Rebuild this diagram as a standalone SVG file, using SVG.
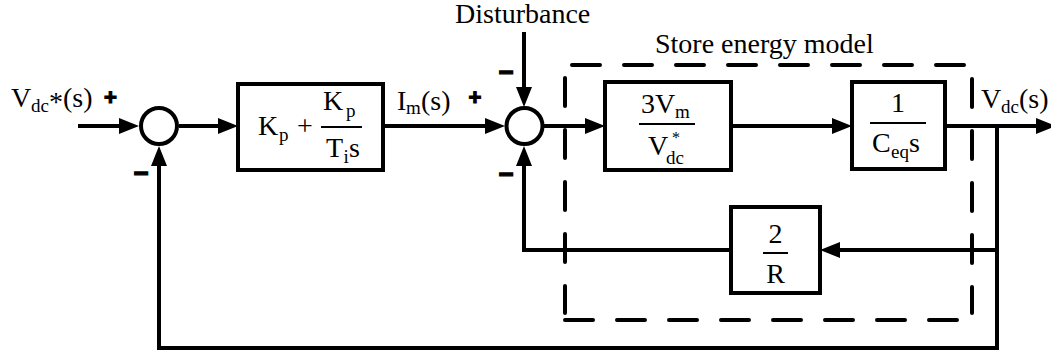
<svg xmlns="http://www.w3.org/2000/svg" width="1051" height="356" viewBox="0 0 1051 356">
<style>
text{font-family:"Liberation Serif","Times New Roman",serif;fill:#000}
.t{font-size:28px}
.s{font-size:19px}
.sign{font-family:"Liberation Sans",Arial,sans-serif;font-weight:bold;stroke:#000;stroke-width:1.2px;text-anchor:middle}
.box{fill:#fff;stroke:#000;stroke-width:4}
.sum{fill:#fff;stroke:#000;stroke-width:4}
.frac{stroke:#000;stroke-width:2}
.wire{fill:none;stroke:#000;stroke-width:4;stroke-linejoin:miter}
.dash{fill:none;stroke:#000;stroke-width:4;stroke-linecap:round;stroke-dasharray:28 24}
.mid{text-anchor:middle}
</style>
<defs>
<marker id="arr" viewBox="0 0 20 16" refX="10" refY="8" markerWidth="20" markerHeight="16" markerUnits="userSpaceOnUse" orient="auto">
<path d="M0,0 L20,8 L0,16 z" fill="#000"/>
</marker>
</defs>
<rect x="0" y="0" width="1051" height="356" fill="#fff"/>

<g id="store-energy-model">
<line class="dash" x1="572" y1="65" x2="967" y2="65"/>
<line class="dash" x1="972" y1="79" x2="972" y2="313"/>
<line class="dash" x1="565" y1="320" x2="960" y2="320"/>
<line class="dash" x1="565" y1="78" x2="565" y2="313"/>
<text class="t" x="655" y="53">Store energy model</text>
</g>

<g id="connectors">
<path class="wire" d="M78,126 H129" marker-end="url(#arr)"/>
<path class="wire" d="M179,126 H228" marker-end="url(#arr)"/>
<path class="wire" d="M383,126 H495" marker-end="url(#arr)"/>
<path class="wire" d="M544,126 H595" marker-end="url(#arr)"/>
<path class="wire" d="M731,126 H842" marker-end="url(#arr)"/>
<path class="wire" d="M945,126 H1046" marker-end="url(#arr)"/>
<path class="wire" d="M997,126 V348 H159 V156" marker-end="url(#arr)"/>
<path class="wire" d="M997,250 H830" marker-end="url(#arr)"/>
<path class="wire" d="M731,250 H524 V156" marker-end="url(#arr)"/>
<path class="wire" d="M524,32 V97" marker-end="url(#arr)"/>
</g>

<g id="input-label">
<text class="t" x="11" y="107">V<tspan class="s" x="31" y="112">dc</tspan><tspan x="49" y="111">*</tspan><tspan x="63" y="107">(s)</tspan></text>
</g>

<g id="sum1">
<circle class="sum" cx="159" cy="126" r="18"/>
<text class="sign" x="110.5" y="105" font-size="22">+</text>
<text class="sign" x="141" y="181.5" font-size="26">−</text>
</g>

<g id="pi-controller">
<rect class="box" x="238" y="84" width="145" height="86"/>
<text class="t" x="258" y="135">K<tspan class="s" x="279" y="141">p</tspan><tspan x="297" y="135">+</tspan></text>
<text class="t" x="323" y="110">K<tspan class="s" x="346" y="117">p</tspan></text>
<line class="frac" x1="321" y1="127" x2="362" y2="127"/>
<text class="t" x="326" y="157">T<tspan class="s" x="343.5" y="163">i</tspan><tspan x="349" y="157">s</tspan></text>
</g>

<g id="im-label">
<text class="t" x="397" y="110">I<tspan class="s" x="406" y="114">m</tspan><tspan x="421" y="110">(s)</tspan></text>
</g>

<g id="disturbance">
<text class="t" x="455" y="23">Disturbance</text>
</g>

<g id="sum2">
<circle class="sum" cx="524.5" cy="126" r="18"/>
<text class="sign" x="475" y="105" font-size="22">+</text>
<text class="sign" x="506" y="80.5" font-size="26">−</text>
<text class="sign" x="506" y="182.5" font-size="26">−</text>
</g>

<g id="gain-block">
<rect class="box" x="605" y="82" width="126" height="88"/>
<text class="t" x="641" y="113">3V<tspan class="s" x="675" y="118">m</tspan></text>
<line class="frac" x1="639" y1="124" x2="695" y2="124"/>
<text class="t" x="648" y="155">V<tspan x="672" y="142.5" style="font-size:16px">*</tspan><tspan class="s" x="666" y="164">dc</tspan></text>
</g>

<g id="capacitor-block">
<rect class="box" x="852" y="82" width="93" height="87"/>
<text class="t mid" x="898" y="112">1</text>
<line class="frac" x1="870" y1="123" x2="926" y2="123"/>
<text class="t" x="872" y="152">C<tspan class="s" x="891" y="158">eq</tspan><tspan x="909" y="152">s</tspan></text>
</g>

<g id="resistor-block">
<rect class="box" x="731" y="207" width="89" height="86"/>
<text class="t mid" x="775.5" y="243">2</text>
<line class="frac" x1="763" y1="253" x2="788" y2="253"/>
<text class="t mid" x="775.5" y="283">R</text>
</g>

<g id="output-label">
<text class="t" x="981" y="108">V<tspan class="s" x="1001" y="113">dc</tspan><tspan x="1019" y="108">(s)</tspan></text>
</g>
</svg>
